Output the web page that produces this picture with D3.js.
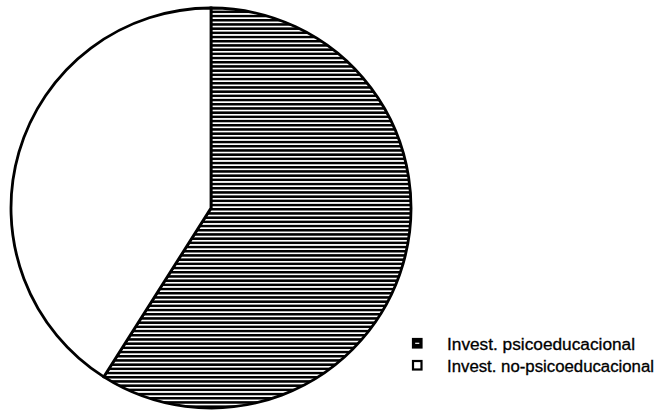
<!DOCTYPE html>
<html>
<head>
<meta charset="utf-8">
<script src="https://cdn.jsdelivr.net/npm/d3@7"></script>
<style>
  html, body { margin: 0; padding: 0; background: #fff; }
  svg { display: block; }
</style>
</head>
<body>
<script>
// Share of studies
const categories = ["Invest. psicoeducacional", "Invest. no-psicoeducacional"];
const values = [59, 41];
const fills = ["url(#hatch)", "#fff"];

const W = 660, H = 410;
const cx = 211, cy = 208, R = 200;

const svg = d3.select("body").append("svg")
  .attr("width", W).attr("height", H);

// horizontal line hatching for the first slice
const defs = svg.append("defs");
const pat = defs.append("pattern").attr("id", "hatch")
  .attr("patternUnits", "userSpaceOnUse")
  .attr("width", 8).attr("height", 4.2);
pat.append("rect").attr("width", 8).attr("height", 4.2).attr("fill", "#fff");
pat.append("rect").attr("y", 0).attr("width", 8).attr("height", 2.5).attr("fill", "#000");

const pie = d3.pie().sort(null).value(d => d);
const arc = d3.arc().innerRadius(0).outerRadius(R);

const g = svg.append("g").attr("transform", `translate(${cx},${cy})`);
g.selectAll("path.slice").data(pie(values)).join("path")
  .attr("class", "slice")
  .attr("d", arc)
  .attr("fill", (d, i) => fills[i])
  .attr("stroke", "#000")
  .attr("stroke-width", 2.8)
  .attr("stroke-linejoin", "miter");

// legend
const leg = svg.append("g").attr("transform", "translate(412,338)");
const row = leg.selectAll("g").data(categories).join("g")
  .attr("transform", (d, i) => `translate(0,${i * 22})`);
row.append("rect")
  .attr("x", 1).attr("y", 1).attr("width", 8.5).attr("height", 8.5)
  .attr("fill", (d, i) => i === 0 ? "#000" : "#fff")
  .attr("stroke", "#000").attr("stroke-width", 2.2);
row.filter((d, i) => i === 0).append("line")
  .attr("x1", 3.2).attr("x2", 7.3).attr("y1", 5.3).attr("y2", 5.3)
  .attr("stroke", "#fff").attr("stroke-width", 1.2);
row.append("text")
  .attr("x", 35).attr("y", 11.5)
  .attr("font-family", "Liberation Sans, Arial, sans-serif")
  .attr("font-size", 16)
  .attr("fill", "#000")
  .attr("stroke", "#000").attr("stroke-width", 0.3)
  .attr("lengthAdjust", "spacingAndGlyphs")
  .attr("textLength", (d, i) => i === 0 ? 188 : 207)
  .text(d => d);
</script>
</body>
</html>
